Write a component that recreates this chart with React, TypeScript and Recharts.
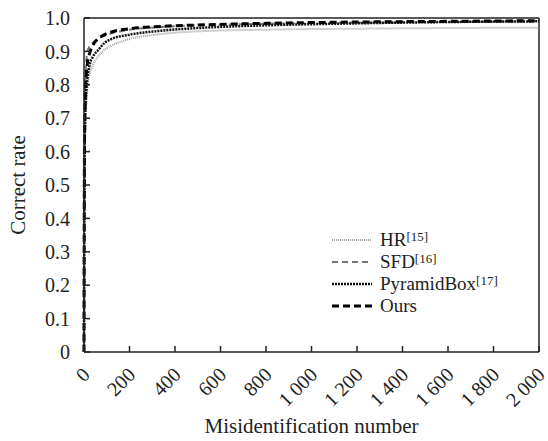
import React from 'react';
import { LineChart, Line, XAxis, YAxis, ReferenceLine } from 'recharts';

const misidentification = [0, 1, 2, 5, 10, 15, 25, 40, 60, 90, 120, 200, 340, 500, 800, 1200, 1600, 2000];
const hr = [0, 0.3, 0.5, 0.65, 0.74, 0.79, 0.83, 0.86, 0.883, 0.905, 0.917, 0.937, 0.952, 0.96, 0.965, 0.968, 0.97, 0.971];
const sfd = [0, 0.45, 0.65, 0.8, 0.87, 0.9, 0.915, 0.927, 0.937, 0.947, 0.954, 0.965, 0.973, 0.978, 0.983, 0.986, 0.988, 0.99];
const pyramidBox = [0, 0.35, 0.55, 0.7, 0.78, 0.82, 0.86, 0.885, 0.902, 0.925, 0.937, 0.95, 0.962, 0.97, 0.978, 0.984, 0.988, 0.99];
const ours = [0, 0.4, 0.6, 0.76, 0.83, 0.865, 0.895, 0.92, 0.937, 0.95, 0.958, 0.968, 0.975, 0.979, 0.984, 0.988, 0.99, 0.992];

const xTicks = [0, 200, 400, 600, 800, 1000, 1200, 1400, 1600, 1800, 2000];
const yTicks = [0, 0.1, 0.2, 0.3, 0.4, 0.5, 0.6, 0.7, 0.8, 0.9, 1.0];

const legendItems = [
  { name: 'HR', ref: '[15]', stroke: '#a0a0a0', dash: '1 1', width: 2 },
  { name: 'SFD', ref: '[16]', stroke: '#777777', dash: '6 4', width: 2 },
  { name: 'PyramidBox', ref: '[17]', stroke: '#111111', dash: '2 1', width: 2.5 },
  { name: 'Ours', ref: '', stroke: '#000000', dash: '7 4', width: 3 },
];

const data = misidentification.map((x, i) => ({
  x,
  hr: hr[i],
  sfd: sfd[i],
  pyramidBox: pyramidBox[i],
  ours: ours[i],
}));

const font = '"Liberation Serif", "Times New Roman", serif';

const fmtX = (v: number) => (v >= 1000 ? `${Math.floor(v / 1000)} ${String(v % 1000).padStart(3, '0')}` : String(v));

const XTick = (props: any) => {
  const { x, y, payload } = props;
  const ax = x + 7;
  const ay = y + 18;
  return (
    <text x={ax} y={ay} transform={`rotate(-45, ${ax}, ${ay})`} textAnchor="end" fontSize={20} fontFamily={font} fill="#222">
      {fmtX(payload.value)}
    </text>
  );
};

const YTitle = (props: any) => {
  const { viewBox } = props;
  const cx = 18;
  const cy = viewBox.y + viewBox.height / 2;
  return (
    <text x={cx} y={cy} transform={`rotate(-90, ${cx}, ${cy})`} textAnchor="middle" dominantBaseline="central" fontSize={21} fontFamily={font} fill="#222">
      Correct rate
    </text>
  );
};

const LegendBox = () => (
  <div style={{ position: 'absolute', left: 331, top: 229, fontFamily: font, fontSize: 19, color: '#222', lineHeight: '22px' }}>
    {legendItems.map((it) => (
      <div key={it.name} style={{ display: 'flex', alignItems: 'center', height: 22 }}>
        <svg width={42} height={10} style={{ marginRight: 7 }}>
          <line x1={1} y1={5} x2={41} y2={5} stroke={it.stroke} strokeWidth={it.width} strokeDasharray={it.dash} />
        </svg>
        <span style={{ whiteSpace: 'nowrap' }}>
          {it.name}
          {it.ref && <sup style={{ fontSize: 13, verticalAlign: 'top', position: 'relative', top: -3 }}>{it.ref}</sup>}
        </span>
      </div>
    ))}
  </div>
);

export default function App() {
  return (
    <div style={{ position: 'absolute', left: 0, top: 0, width: 548, height: 441, background: '#fff' }}>
      <LineChart width={548} height={441} data={data} margin={{ top: 18, right: 9, left: 0, bottom: 0 }}>
        <XAxis
          dataKey="x"
          type="number"
          domain={[0, 2000]}
          ticks={xTicks}
          interval={0}
          tick={<XTick />}
          tickSize={-6}
          tickMargin={12}
          height={89}
          stroke="#222"
          strokeWidth={1.5}
          label={{ value: 'Misidentification number', position: 'insideBottom', offset: 8, fontSize: 21, fontFamily: font, fill: '#222' }}
        />
        <YAxis
          type="number"
          domain={[0, 1]}
          ticks={yTicks}
          interval={0}
          tickFormatter={(v: number) => (v === 0 ? '0' : v.toFixed(1))}
          tickSize={-6}
          tickMargin={20}
          width={84}
          stroke="#222"
          strokeWidth={1.5}
          tick={{ fontSize: 20, fontFamily: font, fill: '#222' }}
          label={{ content: <YTitle /> }}
        />
        <ReferenceLine y={1} stroke="#222" strokeWidth={1.5} />
        <ReferenceLine x={2000} stroke="#222" strokeWidth={1.5} />
        <Line dataKey="hr" name="HR" type="monotone" stroke="#a0a0a0" strokeWidth={2} strokeDasharray="1 1" dot={false} isAnimationActive={false} />
        <Line dataKey="sfd" name="SFD" type="monotone" stroke="#777777" strokeWidth={2} strokeDasharray="6 4" dot={false} isAnimationActive={false} />
        <Line dataKey="pyramidBox" name="PyramidBox" type="monotone" stroke="#111111" strokeWidth={2.5} strokeDasharray="2 1" dot={false} isAnimationActive={false} />
        <Line dataKey="ours" name="Ours" type="monotone" stroke="#000000" strokeWidth={3} strokeDasharray="7 4" dot={false} isAnimationActive={false} />
      </LineChart>
      <LegendBox />
    </div>
  );
}
